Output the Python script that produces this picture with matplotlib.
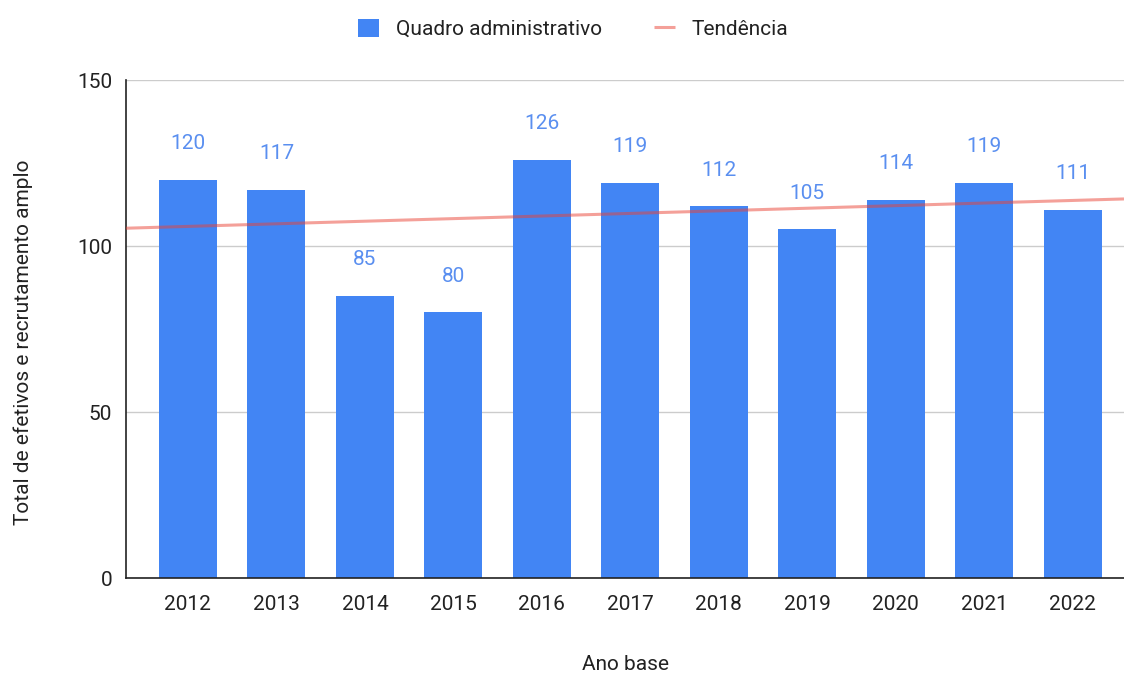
import numpy as np
import matplotlib
matplotlib.use("Agg")
import matplotlib.pyplot as plt

# data
anos = ["2012", "2013", "2014", "2015", "2016", "2017", "2018", "2019", "2020", "2021", "2022"]
quadro = [120, 117, 85, 80, 126, 119, 112, 105, 114, 119, 111]

plt.rcParams["font.family"] = ["Roboto", "DejaVu Sans"]

fig = plt.figure(figsize=(11.24, 6.77), dpi=100)
ax = fig.add_axes([0.1121, 0.1462, 0.8879, 0.7356])

x = np.arange(len(anos))
ax.bar(x, quadro, width=0.655, color="#4285F4", zorder=2, label="Quadro administrativo")

# linear trend line across the full plot width
xlim = (-0.70, 10.58)
coef = np.polyfit(x, quadro, 1)
xt = np.array(xlim)
ax.plot(xt, np.polyval(coef, xt), color="#EA4335", alpha=0.5, lw=2.2, zorder=3,
        label="Tendência", solid_capstyle="butt")

for xi, v in zip(x, quadro):
    ax.text(xi, v + 8, str(v), ha="center", va="bottom", color="#5A8FF0", fontsize=15)

ax.set_xlim(*xlim)
ax.set_ylim(0, 150)
ax.set_yticks([0, 50, 100, 150])
ax.set_xticks(x)
ax.set_xticklabels(anos)
ax.yaxis.grid(True, color="#cccccc", lw=1, zorder=0)
ax.tick_params(axis="both", length=0, labelsize=15, colors="#222222", pad=10)
ax.tick_params(axis="x", pad=12)
for s in ["top", "right"]:
    ax.spines[s].set_visible(False)
for s in ["left", "bottom"]:
    ax.spines[s].set_color("#222222")
    ax.spines[s].set_linewidth(1.2)

ax.set_xlabel("Ano base", fontsize=15, color="#222222", labelpad=30)
ax.set_ylabel("Total de efetivos e recrutamento amplo", fontsize=15, color="#222222")
ax.yaxis.set_label_coords(-0.093, 0.474)

handles, labels = ax.get_legend_handles_labels()
order = [1, 0] if labels[0] == "Tendência" else [0, 1]
fig.legend([handles[i] for i in order], [labels[i] for i in order],
           loc="upper center", bbox_to_anchor=(0.51, 1.0), ncol=2, frameon=False,
           fontsize=15, handlelength=1.0, handleheight=1.0, columnspacing=2.5,
           labelcolor="#222222", borderaxespad=0.5)

fig.savefig("out.png", dpi=100)
